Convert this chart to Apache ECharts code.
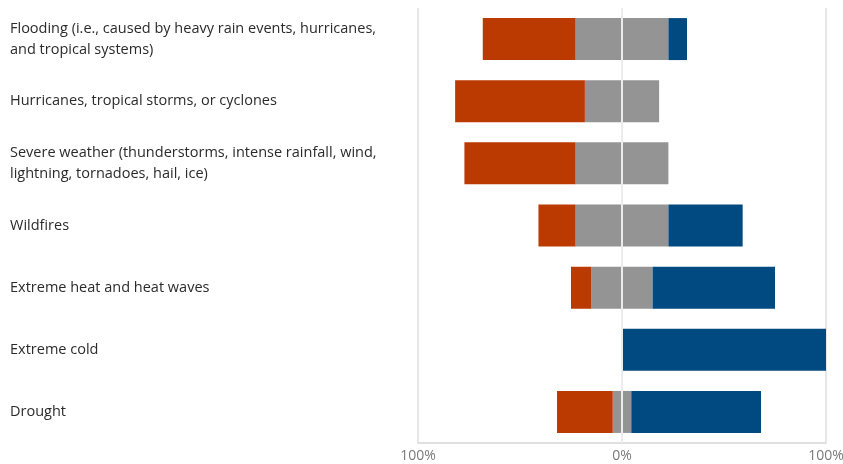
<!DOCTYPE html>
<html>
<head>
<meta charset="utf-8">
<script src="https://cdn.jsdelivr.net/npm/echarts@6/dist/echarts.min.js"></script>
<style>html,body{margin:0;padding:0;background:#fff}#c{width:843px;height:464px}</style>
</head>
<body>
<div id="c"></div>
<script>
const categories = [
  "Flooding (i.e., caused by heavy rain events, hurricanes,\nand tropical systems)",
  "Hurricanes, tropical storms, or cyclones",
  "Severe weather (thunderstorms, intense rainfall, wind,\nlightning, tornadoes, hail, ice)",
  "Wildfires",
  "Extreme heat and heat waves",
  "Extreme cold",
  "Drought"
];
const negative = [45.5, 63.6, 54.5, 18.2, 10, 0, 27.3];
const neutral  = [45.5, 36.4, 45.5, 45.5, 30, 0, 9.1];
const positive = [9.1, 0, 0, 36.4, 60, 100, 63.6];
const tickLabels = ["100%", "0%", "100%"];

const chart = echarts.init(document.getElementById('c'), null, {renderer: 'canvas'});
const font = "'Open Sans', 'Noto Sans', sans-serif";
chart.setOption({
  animation: false,
  grid: {left: 418, right: 17, top: 8, bottom: 21, containLabel: false, outerBoundsMode: 'none'},
  xAxis: {
    type: 'value', min: -100, max: 100, interval: 100,
    axisLine: {show: true, lineStyle: {color: '#e0e0e0', width: 2}},
    axisTick: {show: false},
    splitLine: {show: true, lineStyle: {color: '#e6e6e6', width: 2}},
    axisLabel: {
      color: '#7a7a7a', fontSize: 14, fontFamily: font, margin: 6,
      formatter: (v) => tickLabels[Math.round((v + 100) / 100)]
    }
  },
  yAxis: {
    type: 'category', data: categories, inverse: true,
    axisLine: {show: false},
    axisTick: {show: false},
    axisLabel: {
      align: 'left', margin: 408, color: '#2b2b2b', fontSize: 14.5,
      fontFamily: font, lineHeight: 21, padding: [7, 0, 0, 0]
    }
  },
  series: [
    {name: 'neutralNeg', type: 'bar', stack: 's', barWidth: 42,
     itemStyle: {color: '#949494'}, data: neutral.map(v => -v / 2)},
    {name: 'neutralPos', type: 'bar', stack: 's', barWidth: 42,
     itemStyle: {color: '#949494'}, data: neutral.map(v => v / 2)},
    {name: 'negative', type: 'bar', stack: 's', barWidth: 42,
     itemStyle: {color: '#BA3A02'}, data: negative.map(v => -v)},
    {name: 'positive', type: 'bar', stack: 's', barWidth: 42,
     itemStyle: {color: '#004A82'}, data: positive,
     markLine: {
       silent: true, symbol: 'none', label: {show: false},
       lineStyle: {color: '#ececec', width: 2, type: 'solid'},
       data: [{xAxis: 0}]
     }}
  ]
});
</script>
</body>
</html>
